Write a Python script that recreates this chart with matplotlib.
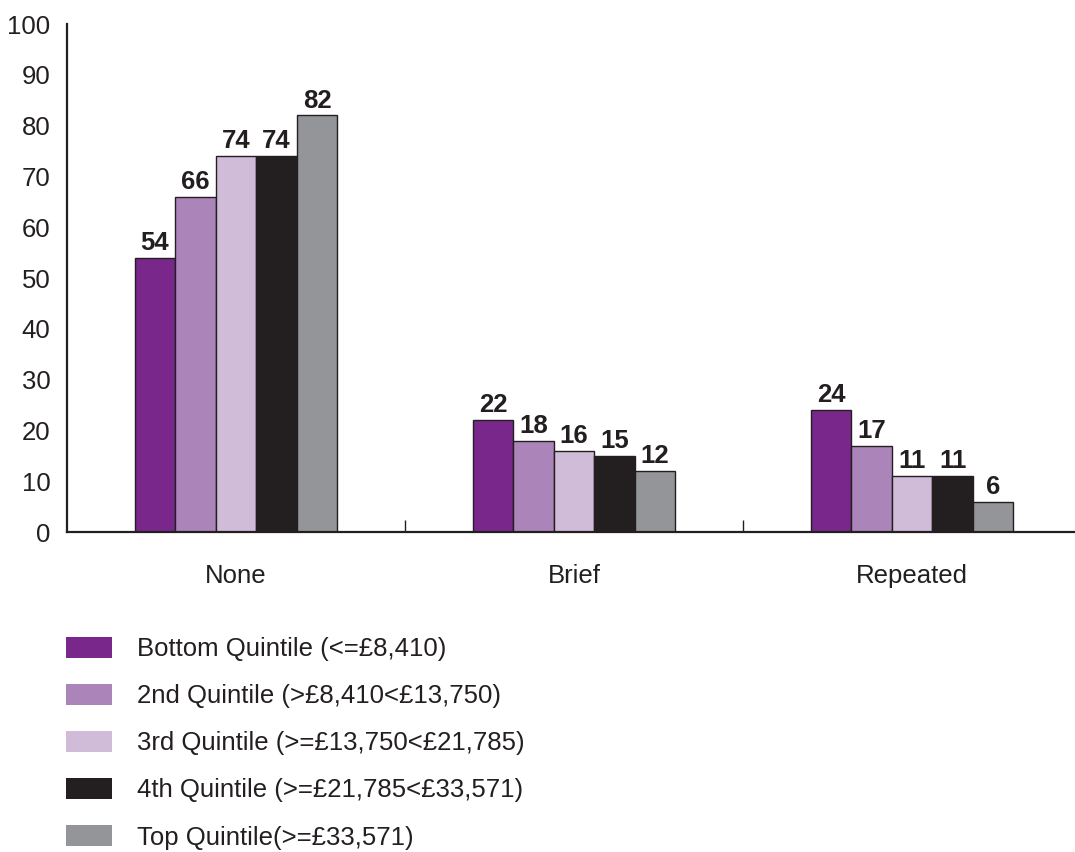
import numpy as np
import matplotlib
matplotlib.use("Agg")
import matplotlib.pyplot as plt
from matplotlib.patches import Patch

plt.rcParams['font.family'] = ['Liberation Sans', 'DejaVu Sans']

# Data
categories = ['None', 'Brief', 'Repeated']
series_names = ['Bottom Quintile (<=£8,410)',
                '2nd Quintile (>£8,410<£13,750)',
                '3rd Quintile (>=£13,750<£21,785)',
                '4th Quintile (>=£21,785<£33,571)',
                'Top Quintile(>=£33,571)']
values = [
    [54, 22, 24],
    [66, 18, 17],
    [74, 16, 11],
    [74, 15, 11],
    [82, 12, 6],
]
colors = ['#79278b', '#ab84b9', '#d0bbd9', '#231f20', '#939598']
text_color = '#231f20'

fig = plt.figure(figsize=(10.75, 8.52), dpi=100)
ax = fig.add_axes([67 / 1075, (852 - 532) / 852, (1075 - 67) / 1075, 508 / 852])

x = np.arange(len(categories))
width = 0.12
for i, (name, vals, c) in enumerate(zip(series_names, values, colors)):
    pos = x + (i - 2) * width
    bars = ax.bar(pos, vals, width, color=c, edgecolor=text_color, linewidth=1, label=name)
    for b, v in zip(bars, vals):
        ax.annotate(str(v), (b.get_x() + b.get_width() / 2, v), xytext=(0, 2),
                    textcoords='offset points', ha='center', va='bottom',
                    fontsize=18.5, fontweight='bold', color=text_color)

ax.set_xlim(-0.5, 2.482)
ax.set_ylim(0, 100)
ax.set_yticks(range(0, 101, 10))
ax.tick_params(axis='y', length=0, pad=12, labelsize=18.5, labelcolor=text_color)
ax.set_xticks(x)
ax.set_xticklabels(categories)
ax.tick_params(axis='x', which='major', length=0, pad=23, labelsize=18.5, labelcolor=text_color)
ax.set_xticks([0.5, 1.5], minor=True)
ax.tick_params(axis='x', which='minor', direction='in', length=9, width=1, color=text_color)

for s in ['top', 'right']:
    ax.spines[s].set_visible(False)
for s in ['left', 'bottom']:
    ax.spines[s].set_linewidth(1.6)
    ax.spines[s].set_color(text_color)

handles = [Patch(facecolor=c, edgecolor='none') for c in colors]
fig.legend(handles, series_names, loc='upper left',
           bbox_to_anchor=(66 / 1075, 1 - 637 / 852), frameon=False,
           fontsize=18.5, handlelength=1.79, handleheight=0.86,
           handletextpad=0.97, labelspacing=0.89, borderpad=0,
           borderaxespad=0, labelcolor=text_color)

fig.savefig('out.png', dpi=100)
